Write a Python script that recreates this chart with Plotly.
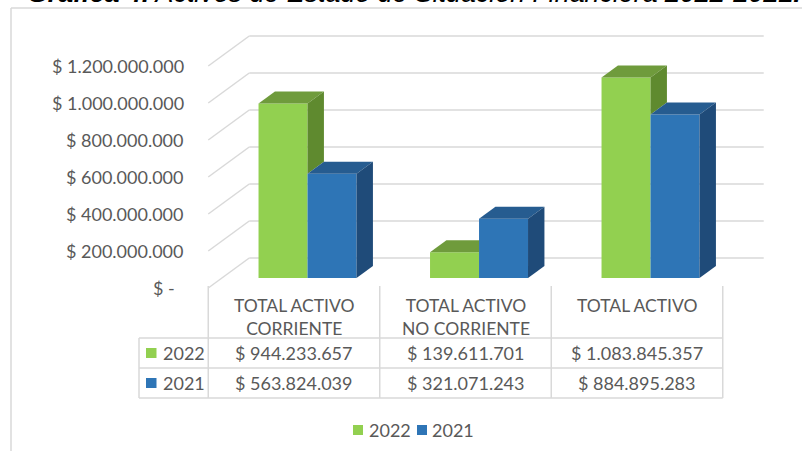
import plotly.graph_objects as go

# ---------------- data ----------------
categories = ["TOTAL ACTIVO<br>CORRIENTE", "TOTAL ACTIVO<br>NO CORRIENTE", "TOTAL ACTIVO"]
series_names = ["2022", "2021"]
values_2022 = [944233657, 139611701, 1083845357]
values_2021 = [563824039, 321071243, 884895283]
y_ticks = [0, 200000000, 400000000, 600000000, 800000000, 1000000000, 1200000000]
title_text = ("<b><i>Gráfica 4.</i></b><i> Activos de Estado de Situación Financiera </i>"
              "<b><i>2022-2021.</i></b>")

# ---------------- styling / geometry ----------------
W, H = 802, 451
CAT_PX = 171.5          # pixels per category
CAT0_PX = 294.0         # pixel x of category 0 centre (front plane)
ZERO_PY = 288.0         # pixel y of value 0 (front plane)
PX_PER_VAL = 0.185e-6   # pixels per peso
DEPTH_DX, DEPTH_DY = 41.0, 30.0   # screen offset of the full chart depth
D_FRONT, D_BACK = 0.33, 0.73      # bar depth span
BAR_W = 49.0 / CAT_PX             # bar width in category units

KX = DEPTH_DX / CAT_PX
KY = DEPTH_DY / PX_PER_VAL

FRONT = ["#92D050", "#2E75B6"]
TOP = ["#6F9B3C", "#265C90"]
SIDE = ["#5F8A2F", "#1F4B79"]
GRID = "#D9D9D9"
TXT = "#595959"
FONT = "Lato"
FS = 18
FS_HDR = 17.5


def proj(i, v, d):
    return i + d * KX, v + d * KY


def fmt(v):
    if v == 0:
        return "$ -\u00a0\u00a0"
    return "$ " + f"{v:,}".replace(",", ".")


def px(x):
    return x / W


def py(y):
    return 1 - y / H


fig = go.Figure()
series = [values_2022, values_2021]

# front faces as real bars
for k, name in enumerate(series_names):
    xs = [i + (k - 0.5) * BAR_W + D_FRONT * KX for i in range(len(categories))]
    fig.add_trace(go.Bar(
        x=xs, y=series[k], base=[D_FRONT * KY] * len(categories), width=BAR_W,
        name=name, marker=dict(color=FRONT[k], line=dict(width=0)),
        hoverinfo="skip", showlegend=False))


def poly(points, color):
    xs = [p[0] for p in points] + [points[0][0]]
    ys = [p[1] for p in points] + [points[0][1]]
    fig.add_trace(go.Scatter(x=xs, y=ys, mode="lines", fill="toself", fillcolor=color,
                             line=dict(width=0, color=color), hoverinfo="skip",
                             showlegend=False))


# top and side faces
for i in range(len(categories)):
    vg, vb = values_2022[i], values_2021[i]
    # green (left) bar
    x0, x1 = i - BAR_W, i
    if vg > vb:
        poly([proj(x0, vg, D_FRONT), proj(x1, vg, D_FRONT), proj(x1, vg, D_BACK), proj(x0, vg, D_BACK)], TOP[0])
        poly([proj(x1, vb, D_FRONT), proj(x1, vg, D_FRONT), proj(x1, vg, D_BACK), proj(x1, vb, D_BACK)], SIDE[0])
    else:
        fr = proj(x1, vg, D_FRONT)
        poly([proj(x0, vg, D_FRONT), fr, (fr[0], vg + D_BACK * KY), proj(x0, vg, D_BACK)], TOP[0])
    # blue (right) bar
    x0, x1 = i, i + BAR_W
    poly([proj(x0, vb, D_FRONT), proj(x1, vb, D_FRONT), proj(x1, vb, D_BACK), proj(x0, vb, D_BACK)], TOP[1])
    poly([proj(x1, 0, D_FRONT), proj(x1, vb, D_FRONT), proj(x1, vb, D_BACK), proj(x1, 0, D_BACK)], SIDE[1])

shapes = []
# gridlines on side wall and back wall
left_i, right_i = -0.5, len(categories) - 0.5
for t in y_ticks:
    a = proj(left_i, t, 0)
    b = proj(left_i, t, 1)
    c = proj(right_i, t, 1)
    shapes.append(dict(type="line", xref="x", yref="y", x0=a[0], y0=a[1], x1=b[0], y1=b[1],
                       line=dict(color=GRID, width=1.5), layer="below"))
    shapes.append(dict(type="line", xref="x", yref="y", x0=b[0], y0=b[1], x1=c[0], y1=c[1],
                       line=dict(color=GRID, width=1.5), layer="below"))

annotations = []
for t in y_ticks:
    annotations.append(dict(xref="paper", yref="y", x=px(186), y=t, xanchor="right", yanchor="middle",
                            text=fmt(t), showarrow=False, font=dict(family=FONT, size=FS, color=TXT)))

# data table
col_edges = [CAT0_PX + (k - 0.5) * CAT_PX for k in range(len(categories) + 1)]
tbl_top, hdr_bot, row1_bot, row2_bot, leg_left = 286, 338, 368, 398, 139
for xe in col_edges:
    shapes.append(dict(type="line", xref="paper", yref="paper", x0=px(xe), x1=px(xe),
                       y0=py(tbl_top), y1=py(row2_bot), line=dict(color=GRID, width=1.5)))
shapes.append(dict(type="line", xref="paper", yref="paper", x0=px(leg_left), x1=px(leg_left),
                   y0=py(hdr_bot), y1=py(row2_bot), line=dict(color=GRID, width=1.5)))
for yl in [hdr_bot, row1_bot, row2_bot]:
    shapes.append(dict(type="line", xref="paper", yref="paper", x0=px(leg_left), x1=px(col_edges[-1]),
                       y0=py(yl), y1=py(yl), line=dict(color=GRID, width=1.5)))

for k, cat in enumerate(categories):
    cx = CAT0_PX + k * CAT_PX
    annotations.append(dict(xref="paper", yref="paper", x=px(cx), y=py(293), xanchor="center", yanchor="top",
                            text=cat, showarrow=False, align="center",
                            font=dict(family=FONT, size=FS_HDR, color=TXT)))
    for r, rowy in enumerate([353, 383]):
        annotations.append(dict(xref="paper", yref="paper", x=px(cx), y=py(rowy), xanchor="center",
                                yanchor="middle", text=fmt(series[r][k]), showarrow=False,
                                font=dict(family=FONT, size=FS, color=TXT)))
for r, rowy in enumerate([353, 383]):
    shapes.append(dict(type="rect", xref="paper", yref="paper", x0=px(146), x1=px(156.5),
                       y0=py(rowy - 5), y1=py(rowy + 5), fillcolor=FRONT[r], line=dict(width=0)))
    annotations.append(dict(xref="paper", yref="paper", x=px(161), y=py(rowy), xanchor="left",
                            yanchor="middle", text=series_names[r], showarrow=False,
                            font=dict(family=FONT, size=FS, color=TXT)))

# legend (bottom)
for r, (sq_x, tx_x) in enumerate([(353, 367), (417, 430)]):
    shapes.append(dict(type="rect", xref="paper", yref="paper", x0=px(sq_x), x1=px(sq_x + 10),
                       y0=py(425), y1=py(435), fillcolor=FRONT[r], line=dict(width=0)))
    annotations.append(dict(xref="paper", yref="paper", x=px(tx_x), y=py(430), xanchor="left",
                            yanchor="middle", text=series_names[r], showarrow=False,
                            font=dict(family=FONT, size=FS, color=TXT)))

# chart frame
shapes.append(dict(type="line", xref="paper", yref="paper", x0=px(11), x1=px(11), y0=py(8), y1=0,
                   line=dict(color=GRID, width=1.5)))
shapes.append(dict(type="line", xref="paper", yref="paper", x0=px(11), x1=1, y0=py(8), y1=py(8),
                   line=dict(color=GRID, width=1.5)))

# title (cut off at top, as in the reference)
annotations.append(dict(xref="paper", yref="paper", x=px(25), y=py(10.5), xanchor="left", yanchor="bottom",
                        text=title_text, showarrow=False,
                        font=dict(family="Liberation Sans", size=26.8, color="black")))

fig.update_layout(
    width=W, height=H,
    margin=dict(l=0, r=0, t=0, b=0),
    paper_bgcolor="white", plot_bgcolor="white",
    barmode="overlay",
    xaxis=dict(range=[(0 - CAT0_PX) / CAT_PX, (W - CAT0_PX) / CAT_PX], visible=False, fixedrange=True),
    yaxis=dict(range=[(ZERO_PY - H) / PX_PER_VAL, ZERO_PY / PX_PER_VAL], visible=False, fixedrange=True),
    shapes=shapes, annotations=annotations,
    showlegend=False,
)

fig.write_html("out.html", config={"displayModeBar": False},
               post_script="document.body.style.margin='0';document.body.style.overflow='hidden';")
